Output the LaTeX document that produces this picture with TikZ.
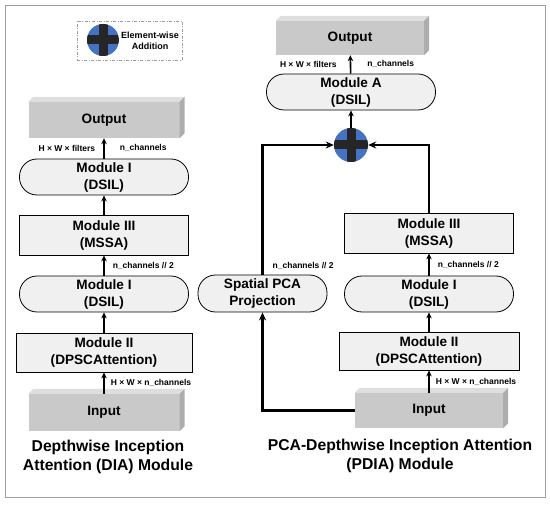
\documentclass[tikz,border=0pt]{standalone}
\usepackage{fontspec}
\setmainfont{Liberation Sans}
\usepackage{xcolor}
\usepackage{tikz}
\usetikzlibrary{arrows.meta,positioning,calc}
\definecolor{boxgray}{gray}{0.94}
\definecolor{slabgray}{gray}{0.79}
\definecolor{slabtop}{gray}{0.87}
\definecolor{slabside}{gray}{0.68}
\definecolor{addblue}{RGB}{68,114,196}
\definecolor{crossdark}{gray}{0.15}
\definecolor{framegray}{gray}{0.62}
\newcommand\modfont{\bfseries\fontsize{13.6}{17}\selectfont}
\newcommand\capfont{\bfseries\fontsize{15.7}{19}\selectfont}
\newcommand\dimfont{\bfseries\fontsize{8.5}{10}\selectfont}
\newcommand\legfont{\bfseries\fontsize{9}{11}\selectfont}
\newcommand\slabfaces[1]{%
  \fill[slabtop] (#1.north west) -- ++(5,-5) -- ($(#1.north east)+(5,-5)$)
    -- (#1.north east) -- cycle;
  \fill[slabside] (#1.north east) -- ++(5,-5) -- ($(#1.south east)+(5,-5)$)
    -- (#1.south east) -- cycle;}
\tikzset{
  modbox/.style={draw=black,fill=boxgray,line width=0.8pt,align=center,
                 inner sep=1pt,minimum width=169pt,minimum height=38pt,font=\modfont},
  modround/.style={modbox,rounded corners=17.5pt,minimum height=36pt},
  slab/.style={fill=slabgray,inner sep=0pt,minimum width=150pt,
               minimum height=36pt,font=\modfont},
  addnode/.style={circle,fill=addblue,minimum size=34pt,inner sep=0pt,
    path picture={\draw[crossdark,line width=9pt]
      (path picture bounding box.west) -- (path picture bounding box.east)
      (path picture bounding box.north) -- (path picture bounding box.south);}},
  flow/.style={-{Stealth[length=6pt,width=5.5pt]},line width=1.6pt},
  skip/.style={-{Stealth[length=8pt,width=7pt]},line width=2.6pt},
  dimlabel/.style={font=\dimfont,inner sep=1pt},
  captext/.style={font=\capfont,align=center},
}

\begin{document}
\begin{tikzpicture}[x=1pt,y=-1pt]
  \useasboundingbox (0,0) rectangle (550,505);
  \draw[framegray,line width=1pt] (5.5,5.5) rectangle (545.5,498);

  % legend
  \node[draw=framegray,line width=0.6pt,dash pattern=on 3pt off 1.5pt on 1pt off 1.5pt,
        minimum width=105pt,minimum height=39pt] (legend) at (129.5,40.5) {};
  \node[addnode,minimum size=32pt] (legadd) at (103,40) {};
  \node[font=\legfont,align=center,inner sep=0pt] (legtxt) at (150,40.5)
    {Element-wise\\Addition};

  % DIA module
  \node[slab,minimum width=151pt] (outL) at (104,120) {Output};
  \slabfaces{outL}
  \node[modround] (dsilLtop) at (104,177) {Module I\\(DSIL)};
  \node[modbox,minimum height=40pt] (mssaL) at (104,235) {Module III\\(MSSA)};
  \node[modround] (dsilL) at (104,294) {Module I\\(DSIL)};
  \node[modbox,minimum width=176pt,minimum height=39pt] (dpscL) at (104,352.5)
    {Module II\\(DPSCAttention)};
  \node[slab,minimum width=151pt,minimum height=37pt] (inL) at (104,412.5) {Input};
  \slabfaces{inL}
  \node[captext] (capL) at (108,456.5) {Depthwise Inception\\Attention (DIA) Module};

  \draw[flow] (inL) -- (dpscL)
    node[midway,right=5pt,dimlabel]{H × W × n\_channels};
  \draw[flow] (dpscL) -- (dsilL);
  \draw[flow] (dsilL) -- (mssaL)
    node[midway,right=7pt,dimlabel]{n\_channels // 2};
  \draw[flow] (mssaL) -- (dsilLtop);
  \draw[flow] (dsilLtop) -- (outL)
    node[midway,left=7pt,dimlabel]{H × W × filters}
    node[midway,right=14pt,dimlabel]{n\_channels};

  % PDIA module
  \node[slab,minimum width=148pt,minimum height=34pt] (outR) at (350,38) {Output};
  \slabfaces{outR}
  \node[modround] (modA) at (351,92) {Module A\\(DSIL)};
  \node[addnode] (add) at (351,145) {};
  \node[modbox,minimum height=40pt] (mssaR) at (429,233) {Module III\\(MSSA)};
  \node[modround] (dsilR) at (429,294) {Module I\\(DSIL)};
  \node[modbox,minimum width=180pt] (dpscR) at (429,351) {Module II\\(DPSCAttention)};
  \node[slab,minimum width=148pt,minimum height=35pt] (inR) at (429,410.5) {Input};
  \slabfaces{inR}
  \node[modround,minimum width=129pt,minimum height=37pt] (pca) at (262.5,293.5)
    {Spatial PCA\\Projection};
  \node[captext] (capR) at (400,456) {PCA-Depthwise Inception Attention\\(PDIA) Module};

  \draw[flow] (inR) -- (dpscR)
    node[midway,right=5pt,dimlabel]{H × W × n\_channels};
  \draw[flow] (dpscR) -- (dsilR);
  \draw[flow] (dsilR) -- (mssaR)
    node[midway,right=7pt,dimlabel]{n\_channels // 2};
  \draw[skip] (mssaR.north) |- (add.east);
  \draw[skip] (inR.west) -| (pca.south);
  \draw[skip] (pca.north) |- (add.west);
  \node[dimlabel,above right=4pt and 9pt of pca.north] (pcadim) {n\_channels // 2};
  \draw[flow] (add) -- (modA);
  \draw[flow] (modA) -- (outR)
    node[midway,left=12pt,dimlabel]{H × W × filters}
    node[midway,right=15pt,dimlabel]{n\_channels};
\end{tikzpicture}
\end{document}
